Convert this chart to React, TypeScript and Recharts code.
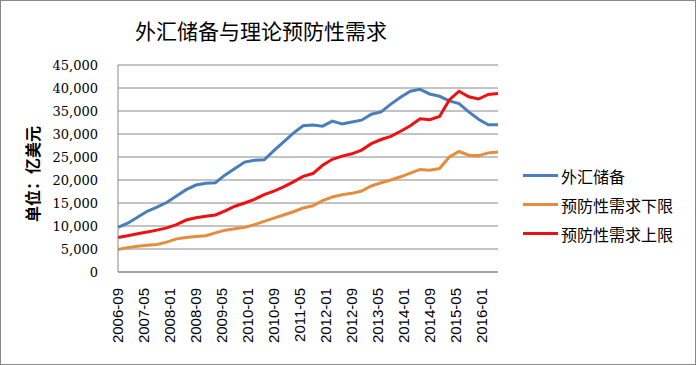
import { LineChart, Line, XAxis, YAxis, CartesianGrid } from 'recharts';

// 季度数据，月份序号从 2006-09 起算
const months = [
  0, 3, 6, 9, 12, 15, 18, 21, 24, 27,
  30, 33, 36, 39, 42, 45, 48, 51, 54, 57,
  60, 63, 66, 69, 72, 75, 78, 81, 84, 87,
  90, 93, 96, 99, 102, 105, 108, 111, 114, 117,
];

const reserves = [
  9700, 10600, 11900, 13200, 14100, 15100, 16500, 17900, 18900, 19300,
  19400, 21100, 22500, 23900, 24300, 24400, 26400, 28300, 30200, 31800,
  31950, 31700, 32800, 32200, 32600, 33000, 34300, 34800, 36500, 38000,
  39300, 39700, 38700, 38200, 37200, 36600, 34800, 33200, 32000, 32000,
];

const lowerBound = [
  4900, 5300, 5600, 5800, 6000, 6500, 7200, 7500, 7700, 7900,
  8500, 9100, 9400, 9700, 10300, 11000, 11700, 12400, 13100, 13900,
  14400, 15500, 16300, 16800, 17100, 17600, 18700, 19400, 20000, 20700,
  21500, 22300, 22100, 22500, 25000, 26200, 25400, 25300, 25900, 26100,
];

const upperBound = [
  7500, 7900, 8300, 8700, 9100, 9600, 10300, 11300, 11800, 12100,
  12400, 13300, 14300, 15000, 15800, 16800, 17600, 18500, 19600, 20800,
  21400, 23200, 24500, 25200, 25700, 26500, 27900, 28800, 29500, 30600,
  31800, 33300, 33100, 33800, 37400, 39300, 38100, 37600, 38600, 38800,
];

const xTicks = [0, 8, 16, 24, 32, 40, 48, 56, 64, 72, 80, 88, 96, 104, 112];
const yTicks = [0, 5000, 10000, 15000, 20000, 25000, 30000, 35000, 40000, 45000];

const seriesNames = ['外汇储备', '预防性需求下限', '预防性需求上限'];
const seriesColors = ['#4A7EBB', '#E58D3C', '#EE1111'];

const data = months.map((m, i) => ({
  m,
  reserves: reserves[i],
  lower: lowerBound[i],
  upper: upperBound[i],
}));

const monthLabel = (m: number) => {
  const total = 8 + m;
  const year = 2006 + Math.floor(total / 12);
  const month = (total % 12) + 1;
  return `${year}-${String(month).padStart(2, '0')}`;
};

const XTick = ({ x, y, payload }: any) => (
  <text
    x={x}
    y={y + 8}
    transform={`rotate(-90, ${x}, ${y + 8})`}
    textAnchor="end"
    dy="0.36em"
    fontSize={15}
    fontFamily="Liberation Sans"
    fill="#000"
  >
    {monthLabel(payload.value)}
  </text>
);

export default function App() {
  return (
    <div
      style={{
        position: 'absolute',
        left: 0,
        top: 0,
        width: 696,
        height: 365,
        background: '#fff',
        boxSizing: 'border-box',
        border: '1px solid #888',
      }}
    >
      <div
        style={{
          position: 'absolute',
          left: 0,
          width: 520,
          top: 14,
          textAlign: 'center',
          fontFamily: 'Noto Sans CJK SC',
          fontSize: 21,
          lineHeight: '30px',
          color: '#000',
        }}
      >
        外汇储备与理论预防性需求
      </div>
      <div
        style={{
          position: 'absolute',
          left: 31,
          top: 173,
          transform: 'translate(-50%, -50%) rotate(-90deg)',
          whiteSpace: 'nowrap',
          fontFamily: 'Noto Sans CJK SC',
          fontWeight: 700,
          fontSize: 16,
          color: '#000',
        }}
      >
        单位：亿美元
      </div>
      <div style={{ position: 'absolute', left: -1, top: -1 }}>
        <LineChart width={696} height={365} data={data} margin={{ top: 65, right: 198, bottom: 0, left: 8 }}>
          <CartesianGrid vertical={false} stroke="#888" strokeWidth={1} />
          <XAxis
            dataKey="m"
            type="number"
            domain={[0, 117]}
            ticks={xTicks}
            tick={<XTick />}
            tickLine={false}
            axisLine={{ stroke: '#888' }}
            interval={0}
            height={93}
          />
          <YAxis
            width={110}
            domain={[0, 45000]}
            ticks={yTicks}
            interval={0}
            tickLine={false}
            axisLine={{ stroke: '#888' }}
            tickMargin={14}
            tick={{ fontSize: 13, fontFamily: 'DejaVu Serif', fill: '#000' }}
            tickFormatter={(v: number) => v.toLocaleString('en-US')}
          />
          <Line dataKey="reserves" name={seriesNames[0]} stroke={seriesColors[0]} strokeWidth={3} dot={false} isAnimationActive={false} />
          <Line dataKey="lower" name={seriesNames[1]} stroke={seriesColors[1]} strokeWidth={3} dot={false} isAnimationActive={false} />
          <Line dataKey="upper" name={seriesNames[2]} stroke={seriesColors[2]} strokeWidth={3} dot={false} isAnimationActive={false} />
        </LineChart>
      </div>
      <div
        style={{
          position: 'absolute',
          left: 522,
          top: 160,
          fontFamily: 'Noto Sans CJK SC',
          fontSize: 16,
          color: '#000',
        }}
      >
        {seriesNames.map((name, i) => (
          <div key={name} style={{ display: 'flex', alignItems: 'center', height: 29 }}>
            <div style={{ width: 35, height: 3, background: seriesColors[i], marginRight: 3 }} />
            <span>{name}</span>
          </div>
        ))}
      </div>
    </div>
  );
}
